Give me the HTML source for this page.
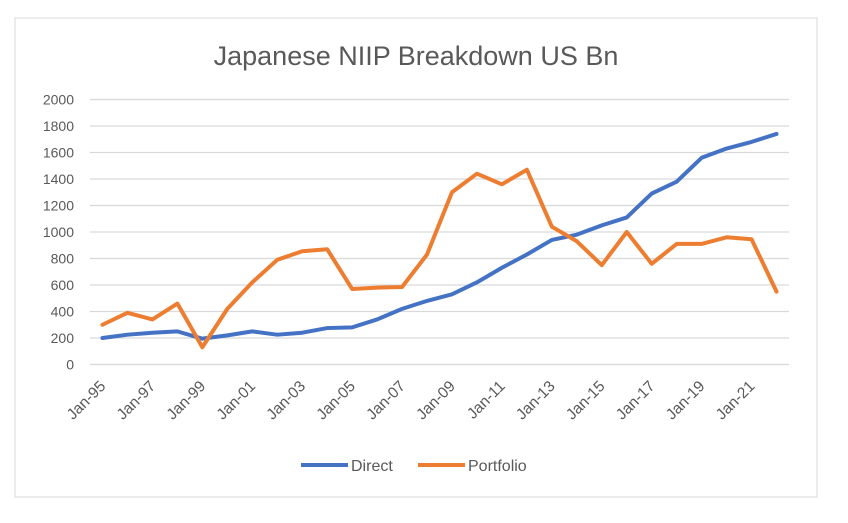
<!DOCTYPE html>
<html><head><meta charset="utf-8"><style>
body{margin:0;background:#fff;width:848px;height:518px;overflow:hidden}
svg text{font-family:"Liberation Sans",sans-serif;fill:#595959}
</style></head><body>
<svg width="848" height="518">
<script>
const years=[1995,1996,1997,1998,1999,2000,2001,2002,2003,2004,2005,2006,2007,2008,2009,2010,2011,2012,2013,2014,2015,2016,2017,2018,2019,2020,2021,2022];
const direct=[200,225,240,250,195,220,250,225,240,275,280,340,420,480,530,620,730,830,940,980,1050,1110,1290,1380,1560,1630,1680,1740];
const portfolio=[300,390,340,460,130,420,620,790,855,870,570,580,585,830,1300,1440,1360,1470,1040,930,750,1000,760,910,910,960,945,550];
const yTicks=[0,200,400,600,800,1000,1200,1400,1600,1800,2000];
</script>
<rect x="15" y="18" width="802" height="479" fill="#fff" stroke="#d9d9d9"/>
<text x="416" y="65" text-anchor="middle" font-size="27">Japanese NIIP Breakdown US Bn</text>
<g id="grid"></g><g id="xl"></g><g id="lines"></g>
<g>
<line x1="301" y1="465" x2="348" y2="465" stroke="#4472c4" stroke-width="4"/>
<text x="351" y="471" font-size="16">Direct</text>
<line x1="418" y1="465" x2="465" y2="465" stroke="#ed7d31" stroke-width="4"/>
<text x="468" y="471" font-size="16">Portfolio</text>
</g>
<script>
const NS="http://www.w3.org/2000/svg";
const L=90,R=789,T=99.5,B=364.5;
const step=(R-L)/years.length;
const xs=i=>L+step*(i+0.5);
const ys=v=>B-(v/2000)*(B-T);
const g=document.getElementById('grid');
yTicks.forEach(t=>{
 const ln=document.createElementNS(NS,'line');
 ln.setAttribute('x1',L);ln.setAttribute('x2',R);ln.setAttribute('y1',ys(t));ln.setAttribute('y2',ys(t));
 ln.setAttribute('stroke','#d9d9d9');ln.setAttribute('stroke-width','1.3');
 
 
 g.appendChild(ln);
 const tx=document.createElementNS(NS,'text');
 tx.setAttribute('x',74);tx.setAttribute('y',ys(t)+5);tx.setAttribute('text-anchor','end');tx.setAttribute('font-size','14');
 tx.textContent=t;
 
 
 g.appendChild(tx);
});
const xl=document.getElementById('xl');
years.forEach((y,i)=>{
 if(i%2) return;
 const tx=document.createElementNS(NS,'text');
 const x=xs(i)+4,yy=387;
 tx.setAttribute('x',x);tx.setAttribute('y',yy);tx.setAttribute('text-anchor','end');tx.setAttribute('font-size','15.5');
 tx.setAttribute('transform',`rotate(-45 ${x} ${yy})`);
 tx.textContent='Jan-'+String(y).slice(2);
 
 
 xl.appendChild(tx);
});
const lg=document.getElementById('lines');
[[direct,'#4472c4','direct-line'],[portfolio,'#ed7d31','portfolio-line']].forEach(([d,c,n])=>{
 const p=document.createElementNS(NS,'polyline');
 p.setAttribute('points',d.map((v,i)=>xs(i)+','+ys(v)).join(' '));
 p.setAttribute('fill','none');p.setAttribute('stroke',c);p.setAttribute('stroke-width','4');
 p.setAttribute('stroke-linejoin','round');p.setAttribute('stroke-linecap','round');
 
 
 lg.appendChild(p);
});
</script>
</svg>
</body></html>
